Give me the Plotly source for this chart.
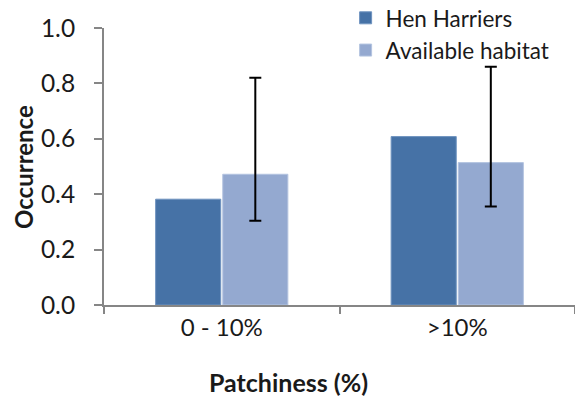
import plotly.graph_objects as go

categories = ["0 - 10%", ">10%"]
hen_harriers = [0.382, 0.608]
available_habitat = [0.472, 0.514]
avail_err_plus = [0.348, 0.346]
avail_err_minus = [0.168, 0.158]
y_ticks = [0.0, 0.2, 0.4, 0.6, 0.8, 1.0]

FONT = "Lato"
TXT = "#1a1a1a"
AX = "#868686"

fig = go.Figure()
fig.add_trace(go.Bar(
    x=categories, y=hen_harriers, name="Hen Harriers",
    marker=dict(color="#4672A6", line=dict(color="#6f93bf", width=1)),
))
fig.add_trace(go.Bar(
    x=categories, y=available_habitat, name="Available habitat",
    marker=dict(color="#94A9D0", line=dict(color="#b4c4e0", width=1)),
    error_y=dict(type="data", symmetric=False, array=avail_err_plus,
                 arrayminus=avail_err_minus, color="black", thickness=2, width=6),
))

fig.update_layout(
    width=575, height=397,
    margin=dict(l=104, r=0, t=28, b=92, autoexpand=False),
    paper_bgcolor="white", plot_bgcolor="white",
    barmode="group", bargap=0.43, bargroupgap=0.03,
    font=dict(family=FONT, color=TXT),
    showlegend=True,
    legend=dict(x=0.513, y=1.113, xanchor="left", yanchor="top",
                font=dict(size=22.5, family=FONT, color=TXT),
                bgcolor="rgba(0,0,0,0)", tracegroupgap=0, itemwidth=30),
    xaxis=dict(
        showline=True, linecolor=AX, linewidth=2,
        ticks="outside", tickson="boundaries", ticklen=7, tickcolor=AX, tickwidth=2,
        tickfont=dict(size=24, family=FONT, color=TXT),
        showgrid=False, zeroline=False, automargin=False,
    ),
    yaxis=dict(
        range=[0, 1.0], tickvals=y_ticks, tickformat=".1f",
        showline=True, linecolor=AX, linewidth=2,
        ticks="outside", ticklen=8, tickcolor=AX, tickwidth=2,
        ticklabelstandoff=14,
        tickfont=dict(size=24.5, family=FONT, color=TXT),
        showgrid=False, zeroline=False, automargin=False,
    ),
    annotations=[
        dict(text="<b>Patchiness (%)</b>", xref="paper", yref="paper",
             x=(288 - 104) / 471, y=-(382 - 305) / 277, xanchor="center", yanchor="middle",
             showarrow=False, font=dict(size=25, family=FONT, color=TXT)),
        dict(text="<b>Occurrence</b>", xref="paper", yref="paper",
             x=-(104 - 23) / 471, y=(305 - 167) / 277, xanchor="center", yanchor="middle",
             textangle=-90, showarrow=False, font=dict(size=24, family=FONT, color=TXT)),
    ],
)

fig.write_html("out.html", config={"displayModeBar": False},
               post_script="document.body.style.margin='0';document.body.style.overflow='hidden';")
